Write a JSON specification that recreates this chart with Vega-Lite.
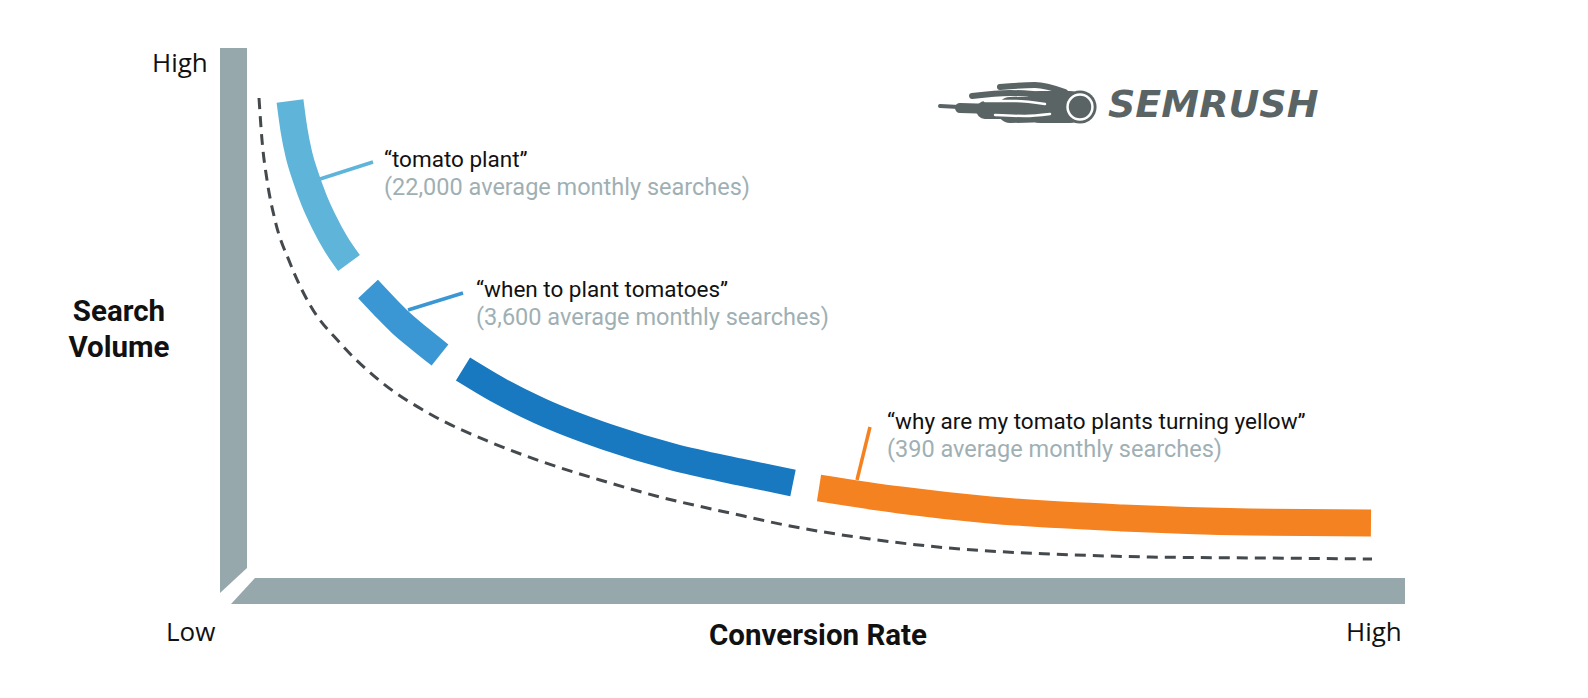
{
  "$schema": "https://vega.github.io/schema/vega-lite/v6.json",
  "width": 1588,
  "height": 698,
  "padding": 0,
  "autosize": {"type": "fit", "contains": "padding"},
  "background": "#ffffff",
  "config": {"view": {"stroke": null}},
  "datasets": {
    "hbar": [
      {"x": 231, "y": 604, "y2": 604},
      {"x": 255, "y": 578, "y2": 604},
      {"x": 1405, "y": 578, "y2": 604}
    ],
    "vbar": [
      {"y": 48, "x": 220, "x2": 247},
      {"y": 568, "x": 220, "x2": 247},
      {"y": 593, "x": 220, "x2": 220}
    ],
    "bands": [
      {"seg": "tomato plant", "x": 290, "y": 101},
      {"seg": "tomato plant", "x": 294, "y": 130},
      {"seg": "tomato plant", "x": 299, "y": 155},
      {"seg": "tomato plant", "x": 306, "y": 178},
      {"seg": "tomato plant", "x": 314, "y": 200},
      {"seg": "tomato plant", "x": 324, "y": 222},
      {"seg": "tomato plant", "x": 336, "y": 244},
      {"seg": "tomato plant", "x": 349, "y": 263},
      {"seg": "when to plant tomatoes", "x": 368, "y": 289},
      {"seg": "when to plant tomatoes", "x": 385, "y": 307},
      {"seg": "when to plant tomatoes", "x": 401, "y": 323},
      {"seg": "when to plant tomatoes", "x": 420, "y": 339},
      {"seg": "when to plant tomatoes", "x": 440, "y": 355},
      {"seg": "mid tail", "x": 463, "y": 369},
      {"seg": "mid tail", "x": 500, "y": 391},
      {"seg": "mid tail", "x": 540, "y": 411},
      {"seg": "mid tail", "x": 607, "y": 437},
      {"seg": "mid tail", "x": 673, "y": 457},
      {"seg": "mid tail", "x": 740, "y": 472},
      {"seg": "mid tail", "x": 793, "y": 483},
      {"seg": "why are my tomato plants turning yellow", "x": 819, "y": 488},
      {"seg": "why are my tomato plants turning yellow", "x": 900, "y": 500},
      {"seg": "why are my tomato plants turning yellow", "x": 990, "y": 510},
      {"seg": "why are my tomato plants turning yellow", "x": 1123, "y": 518},
      {"seg": "why are my tomato plants turning yellow", "x": 1250, "y": 522},
      {"seg": "why are my tomato plants turning yellow", "x": 1371, "y": 523}
    ],
    "leaders": [
      {"seg": "tomato plant", "x": 320, "y": 179},
      {"seg": "tomato plant", "x": 373, "y": 162},
      {"seg": "when to plant tomatoes", "x": 408, "y": 310},
      {"seg": "when to plant tomatoes", "x": 463, "y": 293},
      {"seg": "why are my tomato plants turning yellow", "x": 857, "y": 480},
      {"seg": "why are my tomato plants turning yellow", "x": 870, "y": 427}
    ],
    "trend": [
      {"x": 259, "y": 98}, {"x": 262, "y": 140}, {"x": 267, "y": 180},
      {"x": 275, "y": 220}, {"x": 290, "y": 263}, {"x": 310, "y": 305},
      {"x": 340, "y": 343}, {"x": 380, "y": 381}, {"x": 430, "y": 414},
      {"x": 490, "y": 442}, {"x": 540, "y": 461}, {"x": 600, "y": 480},
      {"x": 660, "y": 497}, {"x": 730, "y": 513}, {"x": 790, "y": 526},
      {"x": 870, "y": 539}, {"x": 960, "y": 549}, {"x": 1050, "y": 554},
      {"x": 1150, "y": 557}, {"x": 1260, "y": 558}, {"x": 1372, "y": 559}
    ],
    "flame": [
      {"part": "f1", "x": 940, "y": 106}, {"part": "f1", "x": 1000, "y": 108}, {"part": "f1", "x": 1070, "y": 108},
      {"part": "f2", "x": 960, "y": 108}, {"part": "f2", "x": 1015, "y": 109}, {"part": "f2", "x": 1070, "y": 108},
      {"part": "f3", "x": 985, "y": 110}, {"part": "f3", "x": 1030, "y": 110}, {"part": "f3", "x": 1070, "y": 108},
      {"part": "f4", "x": 1010, "y": 110}, {"part": "f4", "x": 1045, "y": 109}, {"part": "f4", "x": 1070, "y": 107},
      {"part": "f5", "x": 1040, "y": 107}, {"part": "f5", "x": 1070, "y": 107},
      {"part": "u1", "x": 972, "y": 96}, {"part": "u1", "x": 1010, "y": 93}, {"part": "u1", "x": 1055, "y": 96},
      {"part": "u2", "x": 1000, "y": 87}, {"part": "u2", "x": 1035, "y": 85}, {"part": "u2", "x": 1065, "y": 92}
    ],
    "streaks": [
      {"part": "s1", "x": 985, "y": 101}, {"part": "s1", "x": 1015, "y": 101}, {"part": "s1", "x": 1045, "y": 104},
      {"part": "s2", "x": 995, "y": 115}, {"part": "s2", "x": 1025, "y": 116}, {"part": "s2", "x": 1050, "y": 114}
    ],
    "ball": [{"x": 1080, "y": 107}],
    "texts": [
      {"role": "quote", "label": "“tomato plant”", "x": 384, "y": 167},
      {"role": "quote", "label": "“when to plant tomatoes”", "x": 476, "y": 297},
      {"role": "quote", "label": "“why are my tomato plants turning yellow”", "x": 887, "y": 429},
      {"role": "volume", "label": "(22,000 average monthly searches)", "x": 384, "y": 195},
      {"role": "volume", "label": "(3,600 average monthly searches)", "x": 476, "y": 325},
      {"role": "volume", "label": "(390 average monthly searches)", "x": 887, "y": 457},
      {"role": "tick", "label": "High", "x": 152, "y": 72},
      {"role": "tick", "label": "Low", "x": 166, "y": 641},
      {"role": "tick", "label": "High", "x": 1346, "y": 641},
      {"role": "title", "label": "Search", "x": 119, "y": 321},
      {"role": "title", "label": "Volume", "x": 119, "y": 357},
      {"role": "title", "label": "Conversion Rate", "x": 818, "y": 645},
      {"role": "logo", "label": "SEMRUSH", "x": 1108, "y": 117}
    ]
  },
  "encoding": {
    "x": {"field": "x", "type": "quantitative", "scale": {"domain": [0, 1588], "nice": false, "zero": false}, "axis": null},
    "y": {"field": "y", "type": "quantitative", "scale": {"domain": [698, 0], "nice": false, "zero": false}, "axis": null}
  },
  "layer": [
    {
      "data": {"name": "hbar"},
      "mark": {"type": "area", "color": "#96a8ac", "orient": "vertical"},
      "encoding": {"y2": {"field": "y2"}}
    },
    {
      "data": {"name": "vbar"},
      "mark": {"type": "area", "color": "#96a8ac", "orient": "horizontal"},
      "encoding": {"x2": {"field": "x2"}}
    },
    {
      "data": {"name": "trend"},
      "mark": {"type": "line", "color": "#44494d", "strokeWidth": 3, "strokeDash": [11, 7], "interpolate": "monotone"},
      "encoding": {}
    },
    {
      "data": {"name": "bands"},
      "mark": {"type": "line", "strokeWidth": 27, "strokeCap": "butt", "interpolate": "monotone"},
      "encoding": {
        "color": {"field": "seg", "type": "nominal", "legend": null,
          "scale": {"domain": ["tomato plant", "when to plant tomatoes", "mid tail", "why are my tomato plants turning yellow"],
                    "range": ["#5eb4d9", "#3a97d3", "#1878c0", "#f58220"]}}
      }
    },
    {
      "data": {"name": "leaders"},
      "mark": {"type": "line", "strokeWidth": 3.5, "strokeCap": "butt"},
      "encoding": {
        "color": {"field": "seg", "type": "nominal", "legend": null}
      }
    },
    {
      "data": {"name": "flame"},
      "transform": [{"filter": "datum.part === 'f1'"}],
      "mark": {"type": "line", "color": "#5a6465", "strokeWidth": 4, "strokeCap": "round", "interpolate": "monotone"},
      "encoding": {}
    },
    {
      "data": {"name": "flame"},
      "transform": [{"filter": "datum.part === 'f2'"}],
      "mark": {"type": "line", "color": "#5a6465", "strokeWidth": 10, "strokeCap": "round", "interpolate": "monotone"},
      "encoding": {}
    },
    {
      "data": {"name": "flame"},
      "transform": [{"filter": "datum.part === 'f3'"}],
      "mark": {"type": "line", "color": "#5a6465", "strokeWidth": 18, "strokeCap": "round", "interpolate": "monotone"},
      "encoding": {}
    },
    {
      "data": {"name": "flame"},
      "transform": [{"filter": "datum.part === 'f4'"}],
      "mark": {"type": "line", "color": "#5a6465", "strokeWidth": 26, "strokeCap": "round", "interpolate": "monotone"},
      "encoding": {}
    },
    {
      "data": {"name": "flame"},
      "transform": [{"filter": "datum.part === 'f5'"}],
      "mark": {"type": "line", "color": "#5a6465", "strokeWidth": 32, "strokeCap": "round", "interpolate": "monotone"},
      "encoding": {}
    },
    {
      "data": {"name": "flame"},
      "transform": [{"filter": "datum.part === 'u1' || datum.part === 'u2'"}],
      "mark": {"type": "line", "color": "#5a6465", "strokeWidth": 6, "strokeCap": "round", "interpolate": "monotone"},
      "encoding": {"detail": {"field": "part"}}
    },
    {
      "data": {"name": "streaks"},
      "mark": {"type": "line", "color": "#ffffff", "strokeWidth": 2.5, "strokeCap": "round", "interpolate": "monotone"},
      "encoding": {"detail": {"field": "part"}}
    },
    {
      "data": {"name": "ball"},
      "mark": {"type": "point", "shape": "circle", "filled": true, "color": "#5a6465", "size": 1100, "opacity": 1}
    },
    {
      "data": {"name": "ball"},
      "mark": {"type": "point", "shape": "circle", "filled": false, "stroke": "#ffffff", "strokeWidth": 2.5, "size": 620, "opacity": 1}
    },
    {
      "data": {"name": "texts"},
      "transform": [{"filter": "datum.role === 'quote'"}],
      "mark": {"type": "text", "align": "left", "baseline": "alphabetic", "font": "Roboto", "fontSize": 22.5, "color": "#111111"},
      "encoding": {"text": {"field": "label"}}
    },
    {
      "data": {"name": "texts"},
      "transform": [{"filter": "datum.role === 'volume'"}],
      "mark": {"type": "text", "align": "left", "baseline": "alphabetic", "font": "Roboto", "fontSize": 23.5, "color": "#9fb0b4"},
      "encoding": {"text": {"field": "label"}}
    },
    {
      "data": {"name": "texts"},
      "transform": [{"filter": "datum.role === 'tick'"}],
      "mark": {"type": "text", "align": "left", "baseline": "alphabetic", "font": "Open Sans", "fontSize": 26, "color": "#111111"},
      "encoding": {"text": {"field": "label"}}
    },
    {
      "data": {"name": "texts"},
      "transform": [{"filter": "datum.role === 'title'"}],
      "mark": {"type": "text", "align": "center", "baseline": "alphabetic", "font": "Roboto", "fontWeight": "bold", "fontSize": 29.5, "color": "#111111"},
      "encoding": {"text": {"field": "label"}}
    },
    {
      "data": {"name": "texts"},
      "transform": [{"filter": "datum.role === 'logo'"}],
      "mark": {"type": "text", "align": "left", "baseline": "alphabetic", "font": "DejaVu Sans", "fontWeight": "bold", "fontStyle": "italic", "fontSize": 38, "color": "#5a6465"},
      "encoding": {"text": {"field": "label"}}
    }
  ]
}
